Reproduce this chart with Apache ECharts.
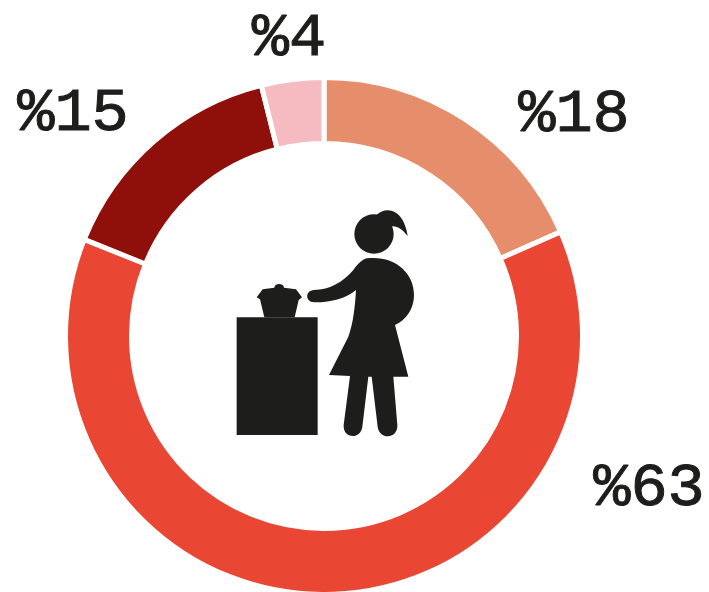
<!DOCTYPE html>
<html>
<head>
<meta charset="utf-8">
<style>
  html, body { margin: 0; padding: 0; background: #fff; }
  #chart { width: 709px; height: 592px; }
</style>
<script src="https://cdn.jsdelivr.net/npm/echarts@6/dist/echarts.min.js"></script>
</head>
<body>
<div id="chart"></div>
<script>
// values clockwise from 12 o'clock, measured off the slice edges
// (printed labels are these rounded: 18, 63, 15, 4)
const categories = ["a", "b", "c", "d"];
const shares = [18.4, 62.7, 15, 3.9];
const colors = ["#e68e6b", "#e94733", "#8f100b", "#f6bbc0"];

// label centres, page pixels
const labelSpots = [
  [574, 115],
  [649, 489],
  [73, 114],
  [289, 39],
];

// woman + stove silhouette, drawn in a 3x space then scaled down
const ICON_PARTS = [
  "M50,352 H293 V705 H50 Z",
  "M110,292 L128,268 L163,263 C163,248 192,248 192,263 L228,268 L246,292 L236,300 L224,352 L133,352 L120,298 Z",
  "M403,102 A59,59 0 1 1 521,102 A59,59 0 1 1 403,102 Z",
  "M470,45 C485,30 510,25 530,40 C550,55 560,85 563,108 C545,85 525,72 505,82 Z",
  "M440,175 C520,165 582,215 582,285 C582,325 560,360 525,375 L565,530 L520,530 L532,675 C534,718 478,720 473,680 L455,530 L445,530 L427,680 C422,720 368,716 371,675 L390,528 L327,525 L385,410 C400,370 405,320 408,270 C380,295 330,308 282,307 C255,305 255,272 282,270 C330,270 370,245 400,210 C415,190 425,180 440,175 Z",
];

const chart = echarts.init(document.getElementById("chart"));

chart.setOption({
  animation: false,
  backgroundColor: "#fff",
  series: [
    {
      type: "pie",
      silent: true,
      center: [324, 336],
      radius: [192.5, 258.5],
      startAngle: 90,
      clockwise: true,
      avoidLabelOverlap: false,
      itemStyle: { borderColor: "#fff", borderWidth: 5 },
      label: {
        show: true,
        position: "outside",
        formatter: (params) => "%" + Math.round(params.value),
        fontFamily: "Liberation Mono",
        fontSize: 62,
        color: "#1d1d1b",
        textBorderColor: "#1d1d1b",
        textBorderWidth: 1,
      },
      labelLine: { show: false },
      labelLayout: (params) => ({
        x: labelSpots[params.dataIndex][0],
        y: labelSpots[params.dataIndex][1],
        align: "center",
        verticalAlign: "middle",
      }),
      data: categories.map((name, i) => ({
        name,
        value: shares[i],
        itemStyle: { color: colors[i] },
      })),
    },
    {
      // graphic component has no path type, custom series does
      type: "custom",
      coordinateSystem: "none",
      silent: true,
      data: [[0]],
      renderItem: () => ({
        type: "group",
        x: 220,
        y: 200,
        scaleX: 1 / 3,
        scaleY: 1 / 3,
        children: ICON_PARTS.map((pathData) => ({
          type: "path",
          shape: { pathData },
          style: { fill: "#1d1d1b" },
        })),
      }),
    },
  ],
});
</script>
</body>
</html>
